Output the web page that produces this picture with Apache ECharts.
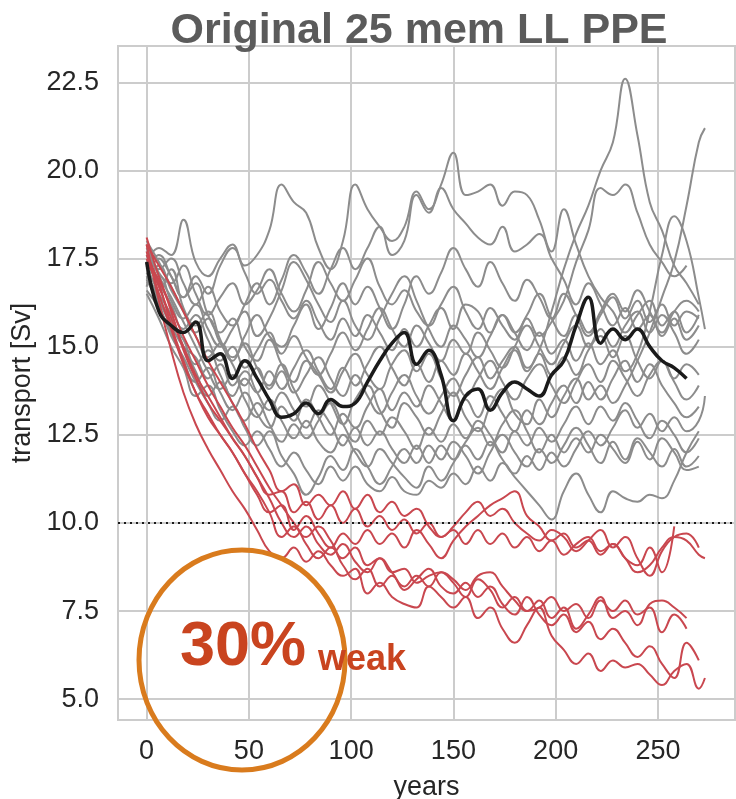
<!DOCTYPE html>
<html><head><meta charset="utf-8">
<script src="https://cdn.jsdelivr.net/npm/echarts@6/dist/echarts.min.js"></script>
<style>html,body{margin:0;padding:0;background:#fff}#c{width:736px;height:799px}</style>
</head><body><div id="c"></div>
<script>
// ---- data ----
const years = [0,6,12,18,24,30,36,42,48,54,60,66,72,78,84,90,96,102,108,114,120,126,132,138,144,150,156,162,168,174,180,186,192,198,204,210,216,222,228,234,240,246,252,258,264,270,273];
const xTicks = [0,50,100,150,200,250];
const yTicks = [5,7.5,10,12.5,15,17.5,20,22.5];
const threshold = 10;

const g1 = [17.2,17.6,17.0,16.4,16.8,15.9,15.4,15.8,15.0,14.6,15.2,14.5,14.0,14.6,14.2,13.7,14.3,14.8,14.2,13.8,14.5,14.9,14.3,14.8,14.1,13.6,14.2,14.7,14.1,14.6,15.0,14.4,14.9,16.0,17.2,18.2,19.0,20.0,20.8,22.6,21.0,19.1,18.3,17.3,16.8,16.2];
const g2 = [17.0,16.6,17.2,16.1,15.6,16.0,15.2,14.6,15.1,14.4,13.9,14.5,13.8,13.3,13.9,13.4,12.8,13.5,13.9,13.2,12.7,13.4,13.0,12.5,13.1,13.7,13.0,12.6,13.3,13.8,13.1,12.8,13.5,13.0,13.6,14.1,13.5,13.9,13.4,13.9,14.6,15.4,16.4,17.4,19.0,20.8,21.2];
const g3 = [17.4,17.8,17.6,18.6,17.4,17.0,17.5,17.9,17.3,17.6,18.3,19.6,19.1,18.8,17.8,17.2,18.0,19.6,18.9,18.4,18.0,18.4,19.4,18.9,19.6,20.5,19.3,19.4,19.6,19.0,19.4,19.3,18.6,17.7,18.9,17.9,17.0,16.4,16.0,15.4,15.9,16.3,15.6,16.0,15.4,15.9];
const g4 = [17.9,17.1,16.8,17.3,16.5,15.9,16.4,16.8,16.2,16.6,17.2,16.5,16.0,16.6,17.4,16.8,16.3,16.9,17.5,16.7,16.2,16.6,16.0,15.6,16.2,16.7,16.0,15.5,16.1,15.6,15.2,15.8,15.3,15.7,16.3,17.4,18.3,19.5,19.3,19.6,18.8,17.9,17.4,17.0,17.3];
const g5 = [16.8,17.0,16.3,15.8,16.2,15.5,15.0,15.5,16.0,15.3,15.8,16.6,17.4,16.9,16.2,15.7,16.3,15.6,15.2,15.8,16.5,17.0,16.3,15.5,15.0,15.6,15.2,14.7,15.3,15.9,15.4,14.9,15.4,14.8,15.2,14.6,15.1,14.5,14.9,14.3,14.8,16.0,17.6,18.7,18.0,16.4,15.5];
const g6 = [17.7,17.2,17.5,16.8,16.2,16.7,16.0,15.6,16.2,16.8,16.2,16.9,17.6,17.1,16.5,17.2,17.8,17.2,17.8,18.4,17.6,18.0,19.3,18.8,19.5,18.9,18.5,18.1,17.9,18.4,17.7,17.9,18.2,17.5,16.9,16.2,16.8,16.2,15.6,16.1,15.5,15.9,15.3,15.8,15.2,15.6];
const g7 = [16.9,17.3,16.6,16.0,15.4,15.8,15.1,14.7,15.3,15.9,15.3,15.0,15.6,16.2,15.5,16.1,16.8,16.2,16.7,16.1,15.5,16.2,17.0,16.5,17.1,17.8,17.2,16.7,17.4,16.8,16.3,16.9,16.4,15.8,16.5,15.9,15.3,15.9,16.4,15.8,16.3,15.7,16.2,15.6,16.0,15.8];
const g8 = [17.6,16.8,16.2,15.5,15.9,15.2,14.6,15.0,14.4,14.9,15.4,14.8,15.3,14.7,14.2,14.8,15.4,14.9,15.5,16.1,15.5,15.0,15.6,15.1,14.6,15.2,14.8,15.4,14.9,14.4,15.0,15.6,15.0,14.5,15.1,15.6,15.0,15.5,15.0,15.6,16.0,15.4,15.9,15.4,14.8,15.2];
const g9 = [17.0,16.4,15.7,15.2,14.5,14.9,14.2,13.6,14.1,13.7,14.3,13.8,14.4,14.9,14.3,13.8,14.4,13.9,14.5,15.0,14.4,13.9,14.5,14.0,14.6,14.2,14.8,14.3,13.8,14.4,14.9,14.3,14.8,14.2,14.7,14.2,14.9,15.3,14.7,15.3,14.6,14.1,14.6,14.0,13.5,13.9];
const g10 = [16.6,16.1,15.4,14.6,14.0,14.4,13.7,13.2,13.7,13.1,12.7,13.3,12.9,13.5,13.0,12.5,13.1,12.7,13.3,13.8,13.2,13.7,13.3,13.9,13.4,12.9,13.5,13.0,13.6,13.1,12.6,13.2,12.8,13.4,13.9,13.4,14.0,13.5,14.1,14.6,14.0,14.5,13.9,13.4,13.0,13.3];
const g11 = [17.3,16.5,15.9,15.0,14.3,13.6,14.0,13.4,12.9,13.4,12.8,12.3,12.8,12.4,12.9,13.4,12.8,12.3,12.9,12.5,13.0,12.6,12.1,12.7,12.3,12.8,12.4,12.9,12.5,12.0,12.6,12.2,12.7,12.3,12.8,13.3,12.8,13.3,12.9,13.4,12.9,12.4,12.9,12.5,12.0,12.4];
const g12 = [16.9,16.2,15.3,14.7,14.0,13.4,12.9,13.3,12.7,12.2,12.6,11.9,11.4,10.8,11.3,11.9,11.5,12.1,11.6,11.1,11.6,12.1,11.7,12.2,11.8,12.3,11.9,11.4,12.0,12.5,12.0,11.6,12.1,11.7,12.2,12.7,12.2,11.7,12.3,11.8,12.4,12.0,11.6,12.1,11.6,11.9];
const g13 = [16.5,15.8,15.0,14.4,13.6,13.9,13.2,12.6,12.2,12.6,12.1,11.6,12.0,11.5,11.1,11.6,11.2,11.6,11.1,10.9,11.3,10.9,10.8,11.2,11.0,11.4,11.1,11.6,11.2,11.7,11.3,10.9,10.5,10.1,10.9,11.4,10.8,10.3,10.9,10.7,10.6,10.8,10.7,11.2,12.0,12.6];
const g14 = [18.0,17.4,16.7,16.0,15.3,14.7,15.1,14.5,13.9,14.4,13.8,14.3,13.7,14.2,14.7,14.1,13.6,14.2,13.6,13.1,13.7,14.2,13.6,13.1,13.6,14.1,13.6,14.1,14.6,14.0,13.5,14.1,14.5,13.9,13.4,14.0,14.5,14.0,14.6,14.1,13.6,14.2,14.6,14.1,14.5,14.2];
const g15 = [17.1,16.3,15.6,15.0,14.7,14.1,14.5,13.9,14.3,13.7,13.2,13.7,13.2,12.7,13.2,12.8,12.2,12.7,12.2,12.6,12.1,11.7,12.2,11.7,12.2,11.8,12.3,12.7,12.2,12.8,13.2,12.6,12.0,12.5,12.0,12.4,12.0,12.5,12.1,11.7,12.3,11.8,12.4,12.0,11.5,11.6];
const g16 = [16.7,17.5,17.0,16.4,17.0,16.5,17.3,17.8,17.1,16.5,16.9,16.3,15.8,16.3,15.7,15.2,15.8,15.3,15.9,15.4,14.9,15.5,15.0,15.6,16.1,15.5,16.2,16.0,15.4,15.9,15.4,15.9,16.5,15.8,15.3,15.9,15.4,16.0,16.5,16.0,16.6,16.0,15.4,16.0,16.3,16.0];
const g17 = [17.8,17.0,16.4,15.7,15.0,14.3,13.8,14.2,13.5,13.0,13.5,12.9,12.4,12.9,12.3,12.0,12.5,12.0,11.6,12.1,11.7,11.3,11.0,11.6,11.2,11.7,12.2,11.8,12.3,11.8,11.4,11.9,11.5,12.0,11.6,12.1,12.6,12.2,12.7,13.2,12.7,13.1,12.6,13.0,12.6,12.9,13.6];

const r1 = [17.9,16.3,14.9,13.7,12.8,12.1,11.5,10.9,10.4,9.8,9.2,9.0,9.3,8.9,9.2,8.8,8.5,8.7,8.0,8.3,7.9,7.7,7.6,8.2,7.9,7.6,7.9,7.3,7.6,7.0,6.6,7.1,7.6,6.8,6.4,6.0,6.3,5.8,6.1,5.9,6.0,5.7,5.4,5.8,6.0,5.3,5.6];
const r2 = [17.6,16.8,15.6,14.6,13.7,13.1,12.5,12.0,11.4,10.9,10.3,9.6,9.9,9.4,9.0,9.3,8.8,8.4,8.7,8.2,8.5,8.1,8.4,8.7,8.2,8.0,8.3,7.9,8.2,7.7,7.4,7.9,7.4,7.1,7.4,6.9,7.2,6.7,7.0,6.6,6.2,6.5,6.0,5.6,6.6,6.1];
const r3 = [17.3,16.9,16.0,14.9,14.1,13.4,12.9,12.4,11.9,11.3,10.7,10.0,9.6,9.9,9.4,9.1,9.4,8.9,8.6,9.0,8.6,8.2,8.5,8.2,8.6,8.3,7.9,8.4,8.1,7.6,7.9,7.5,7.6,7.9,7.5,7.7,7.3,7.8,7.5,7.8,7.4,7.6,6.9,7.4,7.0];
const r4 = [18.1,17.0,16.1,15.3,14.6,13.9,13.3,12.7,12.2,11.6,11.0,10.5,10.0,9.6,9.9,9.5,9.0,9.3,8.8,9.0,8.6,8.7,8.3,8.5,8.6,8.4,8.1,8.5,8.6,8.2,7.8,7.5,7.8,7.3,7.6,7.0,7.4,7.9,7.3,7.5,7.1,7.7,7.8,7.6,7.3];
const r5 = [17.7,16.5,15.5,14.5,13.7,13.0,12.5,12.0,11.4,10.8,10.3,10.5,9.8,10.2,9.7,9.3,9.7,9.4,9.8,9.4,9.7,9.3,9.8,9.4,9.0,9.5,9.9,10.2,10.5,10.7,10.9,10.2,9.9,9.5,9.7,9.3,9.5,9.1,9.4,9.0,8.6,8.8,9.3,9.6,9.5,9.1,9.0];
const r6 = [17.5,16.7,15.8,15.0,14.2,13.6,13.0,12.4,11.9,11.3,10.8,10.9,10.3,10.6,10.1,10.5,10.0,10.4,9.9,10.2,9.8,10.1,9.7,10.0,9.6,9.8,9.4,9.8,9.4,9.7,9.3,9.6,9.2,9.5,9.1,9.4,9.6,9.2,9.4,9.0,8.8,9.3,8.6,9.9];
const r7 = [17.9,17.3,16.7,16.0,15.3,14.6,14.0,13.4,12.8,12.1,11.5,10.9,11.1,10.5,10.8,10.5,10.9,10.4,10.8,10.3,10.6,10.2,10.4,9.9,9.6,9.9,10.3,10.6,10.2,10.4,10.0,9.7,9.5,9.8,9.6,9.2,9.5,9.8,9.3,9.6,9.0,8.5,9.2,9.6,9.7,9.3];

const blackRun = [17.4,16.0,15.6,15.4,15.7,14.6,14.8,14.1,14.6,14.1,13.5,13.0,13.1,13.4,13.1,13.5,13.3,13.4,14.0,14.6,15.1,15.4,14.5,14.9,14.2,12.9,13.6,13.8,13.2,13.7,14.0,13.8,13.6,14.2,14.6,15.6,16.4,15.1,15.5,15.2,15.5,15.0,14.6,14.4,14.1];

const grayMembers = [g1,g2,g3,g4,g5,g6,g7,g8,g9,g10,g11,g12,g13,g14,g15,g16,g17];
const redMembers = [r1,r2,r3,r4,r5,r6,r7];

// ---- chart ----
const FONT = '"Liberation Sans", Arial, Helvetica, sans-serif';
const pair = vals => vals.map((v, i) => [years[i], v]);
const lineSeries = (vals, color, width, z) => ({
  type: 'line', data: pair(vals), showSymbol: false, symbol: 'none', smooth: 0.45,
  lineStyle: { color, width }, z, silent: true, clip: true
});

const series = [];
grayMembers.forEach(v => series.push(lineSeries(v, '#8c8c8c', 2, 2)));
redMembers.forEach(v => series.push(lineSeries(v, '#c9474f', 2, 3)));
const bs = lineSeries(blackRun, '#1a1a1a', 3.5, 4);
bs.markLine = {
  silent: true, symbol: 'none', label: { show: false },
  lineStyle: { color: '#1a1a1a', type: [2, 4], width: 2.2 },
  data: [{ yAxis: threshold }]
};
series.push(bs);

const chart = echarts.init(document.getElementById('c'), null, { renderer: 'canvas' });
chart.setOption({
  animation: false,
  backgroundColor: '#ffffff',
  title: {
    text: 'Original 25 mem LL PPE', left: 414, top: 5, textAlign: 'center',
    textStyle: { fontFamily: FONT, fontSize: 43, fontWeight: 'bold', color: '#5b5b5b' }
  },
  grid: { left: 118, top: 46, width: 617, height: 674, show: true, borderColor: '#cccccc', borderWidth: 2,
    containLabel: false, outerBoundsMode: 'none' },
  xAxis: {
    type: 'value', min: -14, max: 287.7,
    name: 'years', nameLocation: 'middle', nameGap: 54,
    nameTextStyle: { fontFamily: FONT, fontSize: 27, color: '#262626' },
    axisLine: { show: false }, axisTick: { show: false, customValues: xTicks },
    axisLabel: { customValues: xTicks, fontFamily: FONT, fontSize: 27, color: '#262626', margin: 18 },
    splitLine: { show: true, lineStyle: { color: '#cccccc', width: 2 } }
  },
  yAxis: {
    type: 'value', min: 4.41, max: 23.53,
    name: 'transport [Sv]', nameLocation: 'middle', nameGap: 82, nameRotate: 90,
    nameTextStyle: { fontFamily: FONT, fontSize: 27, color: '#262626' },
    axisLine: { show: false }, axisTick: { show: false, customValues: yTicks },
    axisLabel: { customValues: yTicks, fontFamily: FONT, fontSize: 27, color: '#262626', margin: 19,
      formatter: v => Number(v).toFixed(1) },
    splitLine: { show: true, lineStyle: { color: '#cccccc', width: 2 } }
  },
  series,
  graphic: [
    { type: 'ellipse', z: 100, shape: { cx: 242, cy: 660, rx: 103, ry: 110 },
      style: { fill: 'none', stroke: '#d97b1d', lineWidth: 5 } },
    { type: 'text', z: 101, x: 180, y: 648,
      style: { text: '30%', font: 'bold 63px ' + FONT, fill: '#c9441f', verticalAlign: 'middle', align: 'left' } },
    { type: 'text', z: 101, x: 318, y: 660,
      style: { text: 'weak', font: 'bold 36px ' + FONT, fill: '#c9441f', verticalAlign: 'middle', align: 'left' } }
  ]
});
</script>
</body></html>
